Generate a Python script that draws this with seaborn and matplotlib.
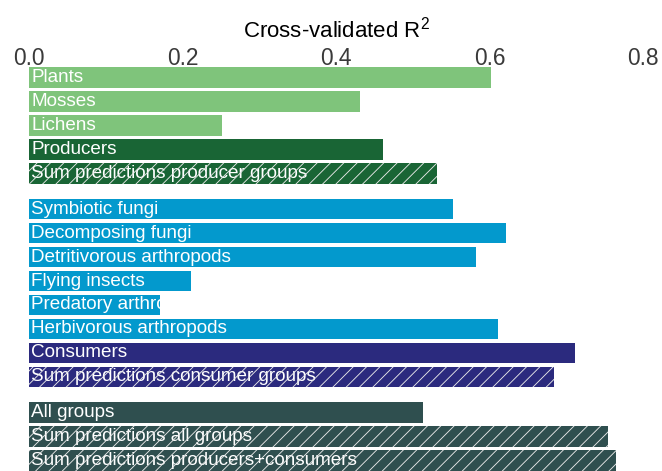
import matplotlib
matplotlib.use('Agg')
import matplotlib.pyplot as plt
from matplotlib.patches import Rectangle
from matplotlib.transforms import Bbox, TransformedBbox
import seaborn as sns
import numpy as np
import pandas as pd

##################################################################################
# Data
##################################################################################
labels = [
    'Plants', 'Mosses', 'Lichens', 'Producers',
    'Sum predictions producer groups',
    'Symbiotic fungi', 'Decomposing fungi', 'Detritivorous arthropods',
    'Flying insects', 'Predatory arthro', 'Herbivorous arthropods',
    'Consumers', 'Sum predictions consumer groups',
    'All groups', 'Sum predictions all groups',
    'Sum predictions producers+consumers',
]
r2 = [0.602, 0.431, 0.251, 0.461, 0.531,
      0.552, 0.621, 0.582, 0.211, 0.171, 0.611, 0.711, 0.684,
      0.514, 0.755, 0.765]
# row slots, with half-slot gaps between the three blocks
slots = [0, 1, 2, 3, 4,
         5.5, 6.5, 7.5, 8.5, 9.5, 10.5, 11.5, 12.5,
         14, 15, 16]
groups = ['producer group'] * 3 + ['producers', 'producers'] +\
         ['consumer group'] * 6 + ['consumers', 'consumers'] +\
         ['all'] * 3
hatched = [False, False, False, False, True,
           False, False, False, False, False, False, False, True,
           False, True, True]

group_colors = {
    'producer group': '#7fc47b',
    'producers': '#196535',
    'consumer group': '#0399cd',
    'consumers': '#2b2a7e',
    'all': '#2f4f4f',
}

df = pd.DataFrame({'label': labels, 'r2': r2, 'slot': slots, 'group': groups})

##################################################################################
# Plot
##################################################################################
DPI = 80
plt.rcParams['font.family'] = ['Liberation Sans', 'DejaVu Sans']
plt.rcParams['mathtext.fontset'] = 'custom'
plt.rcParams['mathtext.rm'] = 'Liberation Sans'
plt.rcParams['hatch.linewidth'] = 0.8

fig = plt.figure(figsize=(662 / DPI, 471 / DPI), dpi=DPI)
ax = fig.add_axes([29 / 662, 0.0, 614 / 662, 408 / 471])

sns.barplot(data=df, x='r2', y='slot', hue='group', palette=group_colors,
            orient='h', native_scale=True, dodge=False, width=0.86,
            saturation=1, linewidth=0, legend=False, ax=ax)

ax.set_xlim(0, 0.8)
ax.set_ylim(16.43, -0.6)

# bar labels and hatching, matched to the drawn patches by their row
for patch in list(ax.patches):
    yc = patch.get_y() + patch.get_height() / 2
    i = int(np.argmin(np.abs(np.array(slots) - yc)))
    clip = TransformedBbox(Bbox([[patch.get_x(), patch.get_y()],
                                 [patch.get_x() + patch.get_width(),
                                  patch.get_y() + patch.get_height()]]),
                           ax.transData)
    t = ax.text(0.003, slots[i], labels[i], color='white', fontsize=17,
                va='center', ha='left', zorder=3)
    t.set_clip_box(clip)
    t.set_clip_on(True)
    if hatched[i]:
        ax.add_patch(Rectangle((patch.get_x(), patch.get_y()),
                               patch.get_width(), patch.get_height(),
                               facecolor='none', edgecolor='#e8e8e8',
                               hatch='//', linewidth=0, zorder=4))

ax.xaxis.tick_top()
ax.xaxis.set_label_position('top')
ax.set_xticks([0.0, 0.2, 0.4, 0.6, 0.8])
ax.set_xticklabels(['0.0', '0.2', '0.4', '0.6', '0.8'])
ax.tick_params(axis='x', length=0, pad=-6, labelsize=20.5, labelcolor='#3a3a3a')
ax.set_yticks([])
ax.set_ylabel('')
ax.set_xlabel('Cross-validated R$^{2}$', fontsize=20, labelpad=8)
for s in ax.spines.values():
    s.set_visible(False)

plt.savefig('out.png', dpi=DPI)
